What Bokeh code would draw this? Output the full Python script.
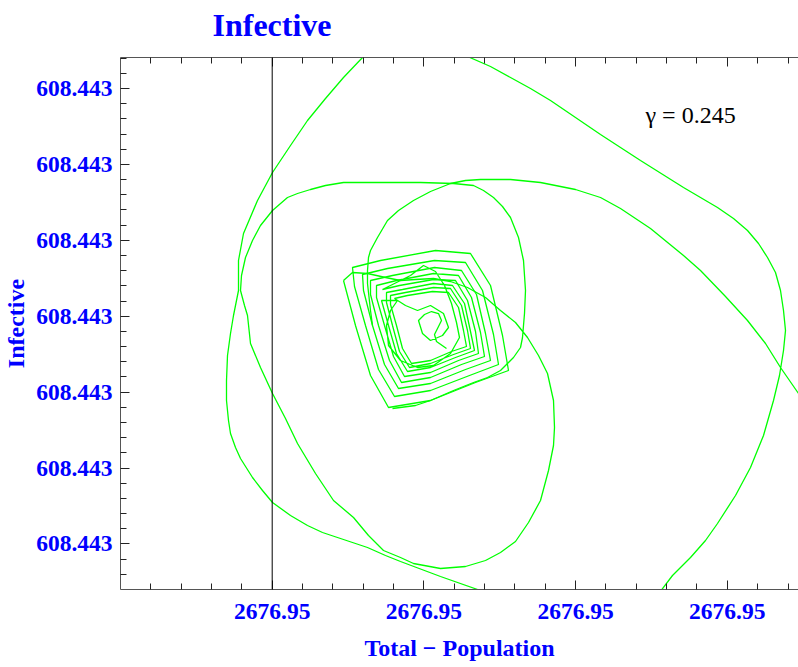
from bokeh.plotting import figure
from bokeh.models import Range1d, LinearAxis, FixedTicker, Span, Label, Title
from bokeh.embed import file_html
from bokeh.resources import INLINE

# ---- axis ticks and labels (values in the chart's own offset units) ----
x_ticks = [271.7, 423.4, 575.1, 726.8]
x_tick_labels = ["2676.95", "2676.95", "2676.95", "2676.95"]
x_minor = [150.3, 180.7, 211.0, 241.3, 302.0, 332.4, 362.7, 393.0, 453.7, 484.0,
           514.4, 544.7, 605.4, 635.8, 666.1, 696.4, 757.1, 787.5]
y_ticks = [88.1, 163.9, 239.8, 315.7, 391.6, 467.5, 543.4]
y_tick_labels = ["608.443"] * 7
y_minor = [57.7, 72.9, 103.3, 118.4, 133.6, 148.7, 179.1, 194.3, 209.4, 224.6, 255.0,
           270.2, 285.3, 300.5, 330.9, 346.1, 361.2, 376.4, 406.8, 422.0, 437.1, 452.3,
           482.7, 497.9, 513.0, 528.2, 558.6, 573.8]
axis_origin = 271.7
gamma_text = "\u03b3 = 0.245"

# ---- trajectory ----
outer_x = [653, 672, 690, 705, 717, 735, 750, 763, 773, 779, 783, 785, 783, 780, 775, 767,
           758, 747, 733, 717, 700, 683, 640, 600, 575, 550, 530, 510, 490, 467, 440, 410,
           385, 362, 343, 325, 307, 290, 272, 257, 243, 238, 238, 233, 230, 227, 226, 226,
           228, 230, 235, 240, 252, 262, 272, 290, 307, 322, 337, 352, 367, 385, 400, 440,
           480, 600, 800, 840, 820, 798, 780, 765, 747, 725, 700, 683, 650, 620, 600, 575,
           550, 540, 510, 480, 465, 450, 430, 413, 398, 387, 377, 370, 368, 367, 367, 370, 372]
outer_y = [600, 575, 557, 540, 523, 495, 467, 435, 400, 375, 350, 330, 310, 290, 272, 257,
           243, 230, 218, 207, 197, 187, 160, 134, 117, 100, 88, 77, 66, 56, 45, 38,
           44, 57, 77, 98, 120, 145, 172, 200, 233, 260, 290, 315, 333, 355, 380, 400,
           420, 433, 447, 458, 477, 490, 502, 515, 525, 532, 537, 542, 547, 555, 561, 576,
           590, 640, 600, 450, 420, 393, 367, 343, 320, 296, 270, 255, 228, 208, 197, 189,
           184, 182, 179, 179, 180, 183, 191, 200, 210, 220, 237, 250, 257, 270, 283, 310, 325]

loop_x = [392, 415, 430, 453, 473, 487, 500, 513, 520, 522, 524, 525, 523, 518, 510, 502,
          493, 483, 473, 453, 420, 380, 343, 325, 310, 297, 287, 272, 260, 252, 245, 241,
          240, 244, 247, 250, 260, 272, 285, 297, 315, 333, 353, 368, 383, 400, 413, 440,
          465, 485, 500, 515, 528, 540, 548, 553, 554, 553, 547, 538, 527, 515, 500, 485,
          467, 450, 433, 415, 400, 385, 367, 352, 343]
loop_y = [408, 405, 400, 390, 382, 377, 370, 357, 347, 337, 313, 290, 260, 237, 217, 206,
          197, 190, 185, 183, 182, 182, 182, 185, 189, 193, 197, 210, 225, 240, 257, 275,
          290, 305, 315, 343, 367, 393, 418, 443, 473, 500, 517, 535, 550, 557, 563, 568,
          566, 560, 552, 541, 522, 500, 470, 445, 427, 400, 373, 355, 337, 322, 310, 297,
          287, 281, 278, 279, 280, 277, 273, 272, 280]

inner_x = [343, 355, 370, 388, 430, 475, 508, 502, 490, 470, 435, 380, 352,
           354, 365, 378, 394, 430, 469, 498, 493, 482, 465, 434, 387, 362,
           363, 372, 384, 398, 430, 465, 490, 485, 476, 461, 434, 392, 370,
           370, 378, 389, 401, 430, 461, 484, 480, 471, 458, 433, 396, 376,
           376, 384, 393, 404, 430, 458, 478, 475, 467, 455, 433, 399, 382,
           410, 423, 435, 444, 451, 456, 459, 450, 433, 417, 400, 388, 386, 390, 397,
           381, 388, 396, 407, 430, 455, 474, 470, 464, 452, 433, 402, 386,
           386, 392, 399, 409, 430, 453, 470, 467, 461, 450, 433, 405, 390,
           390, 396, 402, 411, 430, 451, 466, 463, 458, 448, 432, 407, 394,
           405, 417, 430, 443, 448, 442, 430, 422, 418, 424, 431, 438, 441, 437, 434, 436, 446]
inner_y = [280, 325, 375, 407, 400, 382, 370, 335, 285, 253, 250, 260, 267,
           286, 325, 369, 396, 390, 375, 364, 334, 290, 262, 260, 268, 274,
           290, 325, 364, 388, 383, 369, 360, 333, 294, 270, 267, 275, 280,
           294, 325, 360, 382, 377, 364, 356, 332, 297, 275, 273, 280, 285,
           297, 325, 356, 376, 372, 360, 353, 331, 300, 280, 279, 285, 289,
           275, 265, 271, 285, 303, 322, 337, 353, 365, 367, 360, 345, 325, 310, 300,
           300, 325, 353, 371, 367, 357, 350, 331, 303, 285, 283, 289, 292,
           302, 325, 351, 367, 363, 354, 348, 330, 305, 288, 287, 292, 295,
           304, 325, 348, 363, 360, 351, 346, 330, 307, 292, 291, 295, 298,
           305, 310, 305, 313, 327, 335, 340, 333, 320, 314, 311, 313, 320, 328, 334, 341, 348]

BLUE = "#0000FF"
GREEN = "#00FF00"
FONT = "Liberation Serif"

p = figure(frame_width=678, frame_height=532,
           x_range=Range1d(120, 798), y_range=Range1d(589, 57),
           x_axis_location=None, y_axis_location=None,
           output_backend="svg", toolbar_location=None,
           min_border_left=112, min_border_right=0, min_border_top=49, min_border_bottom=70,
           background_fill_color="white", border_fill_color="white")
p.styles = {"margin-top": "-10px"}
p.outline_line_color = None
p.grid.visible = False


def style(ax, labels=True):
    ax.major_tick_in = 9
    ax.major_tick_out = 0
    ax.minor_tick_in = 6
    ax.minor_tick_out = 0
    ax.axis_line_color = "#555555"
    ax.major_tick_line_color = "#222222"
    ax.minor_tick_line_color = "#222222"
    ax.major_label_text_font = FONT
    ax.major_label_text_font_style = "bold"
    ax.major_label_text_color = BLUE
    ax.axis_label_text_font = FONT
    ax.axis_label_text_font_style = "bold"
    ax.axis_label_text_color = BLUE
    ax.axis_label_text_font_size = "24px"
    if labels:
        ax.major_label_text_font_size = "23.5px"
    else:
        ax.major_label_text_font_size = "0px"
        ax.major_label_standoff = 0


yaxis = LinearAxis(ticker=FixedTicker(ticks=y_ticks, minor_ticks=y_minor),
                   major_label_overrides=dict(zip(y_ticks, y_tick_labels)),
                   axis_label="Infective")
style(yaxis)
yaxis.major_label_standoff = 8
yaxis.axis_label_standoff = 4
p.add_layout(yaxis, "left")

xaxis = LinearAxis(ticker=FixedTicker(ticks=x_ticks, minor_ticks=x_minor),
                   major_label_overrides=dict(zip(x_ticks, x_tick_labels)),
                   axis_label="Total \u2212 Population")
style(xaxis)
xaxis.major_label_standoff = 14
xaxis.axis_label_standoff = 13
p.add_layout(xaxis, "below")

top_axis = LinearAxis(ticker=FixedTicker(ticks=x_ticks, minor_ticks=x_minor),
                      major_label_overrides={t: "" for t in x_ticks})
style(top_axis, labels=False)
p.add_layout(top_axis, "above")

p.title = Title(text="Infective", align="left", offset=92, standoff=29,
                text_font=FONT, text_font_style="bold", text_font_size="32px",
                text_color=BLUE)

p.add_layout(Span(location=axis_origin, dimension="height", line_color="black", line_width=1))

p.line(outer_x, outer_y, line_color=GREEN, line_width=1.3)
p.line(loop_x, loop_y, line_color=GREEN, line_width=1.3)
p.line(inner_x, inner_y, line_color=GREEN, line_width=1.3)

p.add_layout(Label(x=645, y=114.3, text=gamma_text, text_font=FONT, text_font_size="24px",
                   text_baseline="alphabetic", text_align="left", text_color="black"))

open("out.html", "w").write(file_html(p, INLINE))
